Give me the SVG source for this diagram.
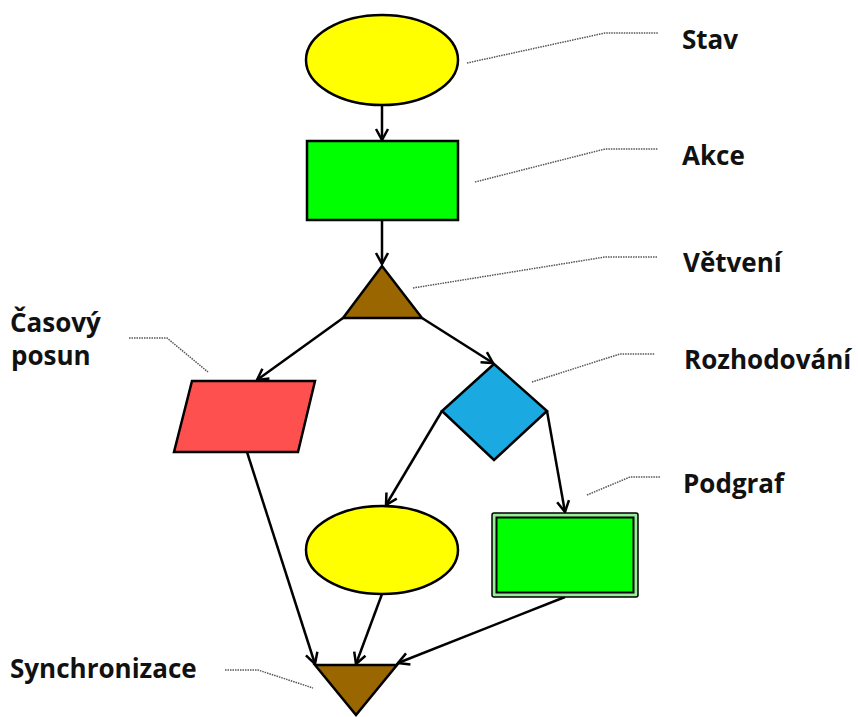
<svg xmlns="http://www.w3.org/2000/svg" width="858" height="717" viewBox="0 0 858 717">
  <defs>
    <marker id="arrow" markerUnits="userSpaceOnUse" markerWidth="16" markerHeight="16" viewBox="-14 -8 16 16" refX="0" refY="0" orient="auto">
      <path d="M -11 -6 L 0 0 L -11 6" fill="none" stroke="#000" stroke-width="2.5" stroke-linejoin="miter"/>
    </marker>
    <style>
      .shape { stroke: #000; stroke-width: 2.5; stroke-linejoin: miter; }
      .edge { fill: none; stroke: #000; stroke-width: 2.5; marker-end: url(#arrow); }
      .leader { fill: none; stroke: #555; stroke-width: 1.5; stroke-dasharray: 1.5 1; }
      .label { font-family: "Open Sans", "Noto Sans", "Liberation Sans", sans-serif; font-weight: bold; font-size: 26px; fill: #111; }
    </style>
  </defs>

  <rect width="858" height="717" fill="#fff"/>

  <!-- connectors -->
  <g id="connectors">
    <line class="edge" x1="382" y1="105" x2="382" y2="140"/>
    <line class="edge" x1="382" y1="220" x2="382" y2="264"/>
    <line class="edge" x1="343" y1="318" x2="257" y2="380"/>
    <line class="edge" x1="422" y1="318" x2="493" y2="363"/>
    <line class="edge" x1="442" y1="411" x2="386" y2="505"/>
    <line class="edge" x1="547" y1="411" x2="565" y2="512"/>
    <line class="edge" x1="247" y1="452" x2="315" y2="664"/>
    <line class="edge" x1="382" y1="594" x2="356" y2="664"/>
    <line class="edge" x1="565" y1="597" x2="398" y2="663"/>
  </g>

  <!-- dotted leader lines to the labels -->
  <g id="leaders">
    <polyline class="leader" points="467,63 605,33 658,33"/>
    <polyline class="leader" points="475,182 605,149 658,149"/>
    <polyline class="leader" points="413,288 605,257 658,257"/>
    <polyline class="leader" points="532,382 620,354 655,354"/>
    <polyline class="leader" points="587,495 630,477 660,477"/>
    <polyline class="leader" points="129,338 167,338 208,372"/>
    <polyline class="leader" points="225,670 258,670 313,688"/>
  </g>

  <!-- nodes -->
  <g id="stav">
    <ellipse class="shape" cx="382" cy="60" rx="76" ry="45" fill="#ffff00"/>
  </g>
  <g id="akce">
    <rect class="shape" x="307" y="141" width="151" height="79" fill="#00ff00"/>
  </g>
  <g id="vetveni">
    <polygon class="shape" points="382,266 343,318 422,318" fill="#996600"/>
  </g>
  <g id="casovy-posun">
    <polygon class="shape" points="192,381 315,381 298,452 174,452" fill="#ff5050"/>
  </g>
  <g id="rozhodovani">
    <polygon class="shape" points="494,364 547,411 494,460 442,411" fill="#1ba9e2"/>
  </g>
  <g id="stav-2">
    <ellipse class="shape" cx="382" cy="550" rx="76" ry="44" fill="#ffff00"/>
  </g>
  <g id="podgraf">
    <rect x="492" y="513" width="146" height="84" rx="2" fill="#96ee96" stroke="#000" stroke-width="1.5"/>
    <rect x="496.5" y="517.5" width="137" height="75" fill="#00ff00" stroke="#000" stroke-width="2"/>
  </g>
  <g id="synchronizace">
    <polygon class="shape" points="315,665 397,665 356,715" fill="#996600"/>
  </g>

  <!-- labels -->
  <g id="labels">
    <text class="label" x="682" y="49">Stav</text>
    <text class="label" x="682" y="165">Akce</text>
    <text class="label" x="683" y="272">Větvení</text>
    <text class="label" x="684" y="369">Rozhodování</text>
    <text class="label" x="683" y="493">Podgraf</text>
    <text class="label" x="10" y="332">Časový</text>
    <text class="label" x="11" y="365">posun</text>
    <text class="label" x="10" y="678">Synchronizace</text>
  </g>
</svg>
